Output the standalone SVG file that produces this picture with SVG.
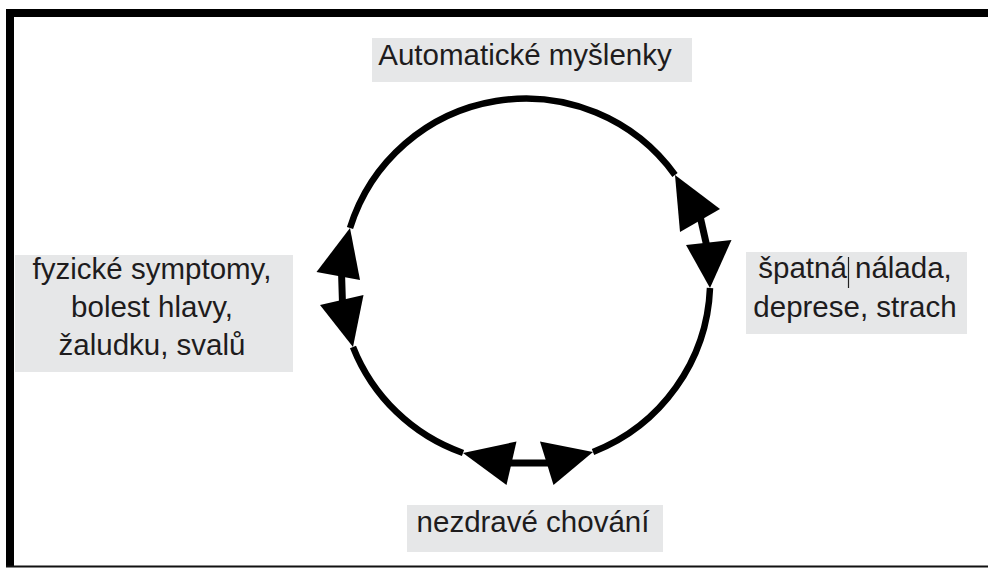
<svg xmlns="http://www.w3.org/2000/svg" width="988" height="568" viewBox="0 0 988 568">
<style>
.box{fill:#e6e7e8}
.lbl{font-family:"Liberation Sans",Arial,sans-serif;font-size:29.5px;fill:#1e1c1d;text-anchor:middle}
.arc{fill:none;stroke:#000;stroke-width:6.5;stroke-linecap:butt}
.conn{stroke:#000;stroke-width:7;fill:none}
.head{fill:#000}
</style>
<rect x="0" y="0" width="988" height="568" fill="#fff"/>
<g id="frame">
<rect x="6" y="9" width="982" height="8" fill="#000"/>
<rect x="6" y="9" width="8" height="558" fill="#000"/>
<rect x="6" y="565.5" width="982" height="2" fill="#111"/>
</g>
<g id="connectors">
<path class="arc" d="M350,228 A184,184 0 0 1 675,175"/>
<path class="arc" d="M710,288 A184,184 0 0 1 593,452"/>
<path class="arc" d="M463,453 A184,184 0 0 1 353,347"/>
<line class="conn" x1="700" y1="216" x2="707" y2="247"/>
<polygon class="head" points="675,175 680,232 720,209"/>
<polygon class="head" points="710,288 686,245 731.5,240"/>
<line class="conn" x1="341.5" y1="272" x2="342.5" y2="304"/>
<polygon class="head" points="350,228 316.5,272 360,280"/>
<polygon class="head" points="353,347 320,305 363.5,295"/>
<line class="conn" x1="508" y1="463" x2="553" y2="463"/>
<polygon class="head" points="463,453 516.5,441.5 506.5,485"/>
<polygon class="head" points="593,452 540,441.5 553.5,485"/>
</g>
<g id="node-automaticke">
<rect class="box" x="372" y="38" width="320" height="44"/>
<text class="lbl" x="525" y="65">Automatické myšlenky</text>
</g>
<g id="node-nalada">
<rect class="box" x="746" y="252" width="221" height="82"/>
<text class="lbl" x="855" y="278">špatná nálada,</text>
<text class="lbl" x="855" y="316.5">deprese, strach</text>
<line x1="848.5" y1="257" x2="848.5" y2="288" stroke="#222" stroke-width="1.2"/>
</g>
<g id="node-chovani">
<rect class="box" x="407" y="505" width="256" height="47"/>
<text class="lbl" x="533" y="531.5">nezdravé chování</text>
</g>
<g id="node-symptomy">
<rect class="box" x="15" y="255" width="278" height="117"/>
<text class="lbl" x="152" y="279">fyzické symptomy,</text>
<text class="lbl" x="152" y="317">bolest hlavy,</text>
<text class="lbl" x="152" y="355">žaludku, svalů</text>
</g>
</svg>
